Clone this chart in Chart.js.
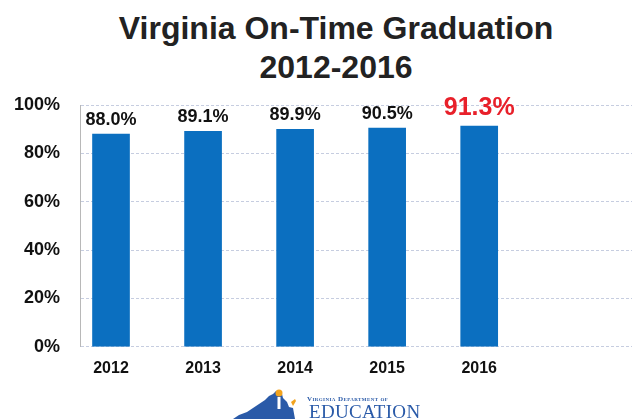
<!DOCTYPE html>
<html>
<head>
<meta charset="utf-8">
<script src="https://cdn.jsdelivr.net/npm/chart.js@4.4.1/dist/chart.umd.min.js"></script>
<style>
	html, body { margin: 0; padding: 0; background: #fff; }
	body { width: 632px; height: 419px; position: relative; overflow: hidden;
		font-family: "Liberation Sans", Arial, sans-serif; }
	#title { position: absolute; left: 20px; top: 9px; width: 632px; text-align: center;
		font-weight: bold; font-size: 32px; line-height: 39px; color: #222; }
	#wrap { position: absolute; left: 0; top: 0; width: 632px; height: 419px; }
	#logo { position: absolute; left: 233px; top: 388px; width: 200px; height: 31px; }
	#logo svg { position: absolute; left: 0; top: 0; }
	#logo .small { position: absolute; left: 74px; top: 7px; font-size: 7px; font-weight: bold;
		font-family: "Liberation Serif", serif; color: #2a5aa8; letter-spacing: 0.4px;
		font-variant: small-caps; white-space: nowrap; }
	#logo .big { position: absolute; left: 76px; top: 13px; font-size: 19px; font-family: "Liberation Serif", serif;
		color: #2a5aa8; letter-spacing: 0.3px; white-space: nowrap; }
</style>
</head>
<body>
<div id="title">Virginia On-Time Graduation<br>2012-2016</div>
<div id="wrap"><canvas id="chart" width="632" height="419"></canvas></div>
<div id="logo">
	<svg width="66" height="31" viewBox="0 0 66 31">
		<polygon points="0,31 6,27 14,24 20,20 26,16 32,12 36,8 40,6 43,3 47,2 49,6 50,10 54,14 56,19 60,20 62,31" fill="#2a5aa8"/>
		<circle cx="46" cy="5" r="3.5" fill="#f2a31e"/>
		<rect x="44.5" y="9" width="3" height="12" fill="#ffffff"/>
		<polygon points="58,14 62,11 63,13 60,18" fill="#f2a31e"/>
	</svg>
	<span class="small">Virginia Department of</span>
	<span class="big">EDUCATION</span>
</div>
<script>
// ── Data ─────────────────────────────────────────────
const years      = [ '2012', '2013', '2014', '2015', '2016' ];
const gradRates  = [ 88.0, 89.1, 89.9, 90.5, 91.3 ];
const yTicks     = [ 0, 20, 40, 60, 80, 100 ];
const highlightYear = '2016';

// ── Palette ──────────────────────────────────────────
const colors = {
	bar       : '#0b6fc0',
	text      : '#111111',
	highlight : '#e8202a',
	grid      : '#c6cde0',
	border    : '#b8b8b8',
};

const FONT = '"Liberation Sans", Arial, sans-serif';

// value labels above each bar
const valueLabels = {
	id: 'valueLabels',
	afterDatasetsDraw( chart ) {
		const ctx = chart.ctx;
		const meta = chart.getDatasetMeta( 0 );
		ctx.save();
		ctx.textAlign = 'center';
		ctx.textBaseline = 'alphabetic';
		meta.data.forEach( ( bar, i ) => {
			const hot = years[ i ] === highlightYear;
			ctx.font = 'bold ' + ( hot ? 25 : 18 ) + 'px ' + FONT;
			ctx.fillStyle = hot ? colors.highlight : colors.text;
			ctx.fillText( gradRates[ i ].toFixed( 1 ) + '%', bar.x, bar.y - ( hot ? 11 : 9 ) );
		} );
		ctx.restore();
	},
};

new Chart( document.getElementById( 'chart' ), {
	type: 'bar',
	data: {
		datasets: [ {
			data            : gradRates.map( ( v, i ) => ( { x: i + 1, y: v } ) ),
			backgroundColor : colors.bar,
			borderWidth     : 0,
			barThickness    : 37,
		} ],
	},
	options: {
		responsive : false,
		animation  : false,
		layout     : { padding: { left: 12, top: 105, right: 0, bottom: 37 } },
		plugins: {
			legend  : { display: false },
			tooltip : { enabled: false },
		},
		scales: {
			x: {
				type   : 'linear',
				offset : false,
				min    : 0.663,
				max    : 6.66,
				afterBuildTicks: ( s ) => { s.ticks = years.map( ( y, i ) => ( { value: i + 1 } ) ); },
				grid   : { display: false },
				border : { display: false },
				ticks: {
					callback : ( v ) => years[ v - 1 ] || '',
					color    : colors.text,
					font     : { family: FONT, size: 16, weight: 'bold' },
					padding  : 4,
					maxRotation: 0,
				},
			},
			y: {
				min : 0,
				max : 100,
				afterBuildTicks: ( s ) => { s.ticks = yTicks.map( ( v ) => ( { value: v } ) ); },
				afterFit: ( s ) => { s.width = 68; },
				grid: {
					color     : colors.grid,
					drawTicks : false,
				},
				border: { display: true, color: colors.border, dash: [ 3, 2 ] },
				ticks: {
					callback : ( v ) => v + '%',
					color    : colors.text,
					font     : { family: FONT, size: 18, weight: 'bold' },
					padding  : 20,
				},
			},
		},
	},
	plugins: [ valueLabels ],
} );
</script>
</body>
</html>
